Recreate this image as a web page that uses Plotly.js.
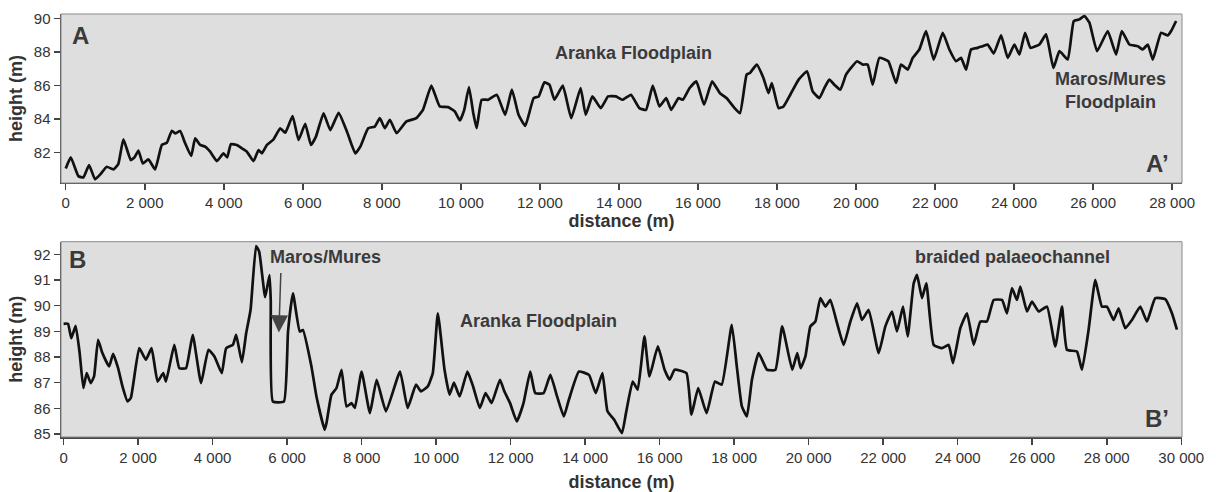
<!DOCTYPE html>
<html>
<head>
<meta charset="utf-8">
<script src="https://cdn.plot.ly/plotly-3.0.1.min.js"></script>
<style>html,body{margin:0;padding:0;background:#fff;}#chart{width:1216px;height:492px;}</style>
</head>
<body>
<div id="chart"></div>
<script>
// Profile A–A' (distance m, height m)
const distA = [0,127,320,447,590,742,880,1038,1206,1330,1459,1646,1740,1839,1950,2092,2262,2432,2558,2685,2769,2895,3022,3174,3275,3402,3529,3655,3825,3993,4085,4180,4331,4458,4584,4752,4879,4963,5091,5259,5428,5555,5741,5892,6061,6206,6332,6525,6695,6906,7118,7328,7455,7653,7822,7949,8076,8203,8373,
8616,8744,8871,9041,9253,9465,9677,9847,9975,10085,10204,10314,10399,10526,10696,10908,11121,11290,11460,11630,11842,11969,12114,12241,12368,12580,12793,13031,13158,13328,13540,13727,13922,14092,14304,14516,14686,14856,15025,15195,15323,15509,15620,15789,15959,16154,16358,16553,16723,16893,17063,17232,17317,17487,17657,17784,17869,18039,18166,18336,18548,18760,
18903,19072,19198,19325,19451,19603,19747,19873,20025,20169,20295,20422,20591,20819,21013,21139,21308,21435,21603,21772,21966,22194,22363,22532,22658,22785,22911,23080,23207,23333,23485,23671,23840,24008,24135,24278,24414,24641,24810,24996,25148,25359,25511,25654,25781,25907,26101,26371,26582,26726,26920,27131,27257,27384,27511,27722,27890,27975,28101];
const heightA = [81.04,81.70,80.58,80.50,81.24,80.39,80.70,81.14,80.98,81.30,82.78,81.54,81.70,82.10,81.34,81.58,80.98,82.44,82.57,83.29,83.13,83.27,82.54,81.78,82.84,82.44,82.34,82.04,81.48,81.94,81.70,82.49,82.44,82.24,82.04,81.48,82.14,81.94,82.44,82.78,83.43,83.17,84.17,82.74,83.70,82.44,82.94,84.33,83.33,84.36,83.23,81.94,82.34,83.44,83.54,84.04,83.44,83.94,83.14,
83.84,83.94,84.04,84.54,85.98,84.74,84.7,84.44,83.9,84.54,85.9,84.34,83.44,85.14,85.14,85.44,84.24,85.74,84.24,83.58,85.24,85.34,86.18,86.04,85.14,85.98,84.04,85.84,84.24,85.34,84.64,85.34,85.34,85.14,85.44,84.64,84.54,85.98,84.74,85.24,84.54,85.24,85.14,85.84,86.24,84.84,86.24,85.54,85.24,84.74,84.34,86.64,86.74,87.24,86.44,85.54,86.14,84.64,84.74,85.44,86.34,86.84,
85.64,85.24,85.84,86.34,86.04,85.74,86.64,87.04,87.44,87.24,87.24,86.04,87.64,87.44,86.14,87.24,86.94,87.64,88.14,89.24,87.54,89.14,88.14,87.44,87.64,86.94,88.14,88.24,88.34,88.44,87.9,88.98,87.64,88.44,87.84,89.14,88.24,88.44,89.04,87.04,88.04,87.54,89.84,89.94,90.14,89.74,88.04,89.24,87.84,89.24,88.44,88.34,88.14,88.44,87.54,89.14,88.98,89.24,89.84];

// Profile B–B'
const distB = [0,117,206,323,431,530,620,727,817,925,1041,1221,1329,1463,1580,1714,1804,2029,2208,2361,2522,2675,2747,2971,3106,3285,3465,3689,3887,4049,4246,4363,4542,4632,4785,4901,5018,5167,5250,5410,5527,5560,5617,5913,6024,6155,6338,6424,6652,6787,7008,7056,7190,7325,7460,7594,7729,7818,7998,8222,8402,8653,9030,
9234,9459,9594,9775,9910,10045,10225,10361,10478,10631,10839,10992,11172,11326,11488,11713,11830,11984,12164,12345,12525,12660,12885,13066,13246,13427,13562,13832,14103,14283,14463,14599,14779,14987,15095,15275,15410,15591,15726,15951,16132,16267,16402,16718,16853,17034,17259,17484,17665,17935,18070,18206,18341,18476,18656,18882,19107,19288,19558,19693,19784,
19911,20045,20179,20313,20447,20581,20760,20939,21118,21297,21431,21610,21878,22057,22236,22370,22531,22657,22818,22907,23041,23157,23354,23578,23757,23873,24070,24249,24428,24607,24785,24964,25188,25322,25456,25590,25680,25859,25993,26172,26396,26619,26798,26932,27200,27335,27513,27692,27871,28005,28184,28318,28497,28676,28900,29079,29302,29571,29750,29884];
const heightB = [89.29,89.29,88.73,89.21,88.15,86.79,87.37,86.98,87.24,88.67,88.15,87.63,88.12,87.56,86.85,86.27,86.4,88.34,87.89,88.34,87.04,87.37,87.04,88.47,87.56,87.56,88.86,86.98,88.28,88.02,87.37,88.34,88.47,88.86,87.79,88.93,89.83,92.32,92.1,90.33,91.19,90.2,86.26,86.26,88.99,90.48,88.99,89.05,87.63,86.46,85.16,85.42,86.53,86.79,87.5,86.07,86.2,86.01,87.43,85.81,87.11,85.88,87.43,
86.01,86.92,86.66,86.85,87.37,89.7,87.5,86.53,87.0,86.46,87.43,86.85,86.01,86.59,86.2,87.11,86.66,86.2,85.49,86.2,87.43,86.59,86.59,87.3,86.46,85.68,86.33,87.43,87.3,86.59,87.37,85.88,85.55,85.03,85.81,87.04,86.72,88.8,87.24,88.41,87.5,87.11,87.5,87.37,85.75,86.79,85.81,87.04,86.92,89.25,87.63,86.07,85.68,87.11,88.15,87.5,87.5,89.19,87.5,88.15,87.56,
88.02,89.19,89.38,90.29,89.96,90.22,89.32,88.47,89.38,90.09,89.44,89.83,88.15,89.19,89.77,88.99,89.96,88.8,90.87,91.2,90.29,90.87,88.47,88.34,88.47,87.76,89.12,89.7,88.47,89.38,89.38,90.22,90.22,89.7,90.68,90.22,90.74,89.77,90.16,89.77,89.96,88.41,89.96,88.28,88.21,87.5,89.06,91.0,89.96,89.96,89.44,89.89,89.12,89.44,89.96,89.38,90.29,90.25,89.7,89.06];

const xTitle = 'distance (m)';
const yTitle = 'height (m)';

const lineStyle = {color:'#111', width:2.7, shape:'spline', smoothing:0.4};
const traces = [
  {x:distA, y:heightA, xaxis:'x', yaxis:'y', mode:'lines', line:lineStyle, hoverinfo:'skip'},
  {x:distB, y:heightB, xaxis:'x2', yaxis:'y2', mode:'lines', line:lineStyle, hoverinfo:'skip'}
];

const FAM = 'Liberation Sans, Arial, sans-serif';
const tickFont = {family:FAM, size:15, color:'#333'};
const titleFont = {family:FAM, size:18, color:'#333', weight:'bold'};
function xax(range, anchor, standoff){
  return {anchor:anchor, domain:[0,1], range:range, tick0:0, dtick:2000, ticks:'outside', ticklen:6, tickwidth:1.5,
    tickcolor:'#444', showline:true, linecolor:'#444', linewidth:1.5, showgrid:false, zeroline:false,
    tickformat:',d', separatethousands:true, tickfont:tickFont, title:{text:xTitle, font:titleFont, standoff:standoff}};
}
function yax(range, dom, dt, anchor){
  return {anchor:anchor, domain:dom, range:range, tick0:0, dtick:dt, ticks:'outside', ticklen:6, tickwidth:1.5,
    tickcolor:'#444', showline:true, linecolor:'#444', linewidth:1.5, showgrid:false, zeroline:false,
    tickfont:tickFont, title:{text:yTitle, font:titleFont, standoff:6}};
}
const annFont = {family:FAM, size:18, color:'#3a3a3a', weight:'bold'};
const bigFont = {family:FAM, size:24, color:'#3a3a3a', weight:'bold'};
const ann = [
  {xref:'x', yref:'y', x:362, y:89.0, text:'A', showarrow:false, font:bigFont},
  {xref:'x', yref:'y', x:27642, y:81.36, text:'A’', showarrow:false, font:bigFont},
  {xref:'x', yref:'y', x:14357, y:87.91, text:'Aranka Floodplain', showarrow:false, font:annFont},
  {xref:'x', yref:'y', x:26453, y:85.72, text:'Maros/Mures<br>Floodplain', showarrow:false, font:annFont},
  {xref:'x2', yref:'y2', x:382, y:91.78, text:'B', showarrow:false, font:bigFont},
  {xref:'x2', yref:'y2', x:29352, y:85.62, text:'B’', showarrow:false, font:bigFont},
  {xref:'x2', yref:'y2', x:5482, y:91.88, xanchor:'left', text:'Maros/Mures', showarrow:false, font:annFont},
  {xref:'x2', yref:'y2', x:12740, y:89.4, text:'Aranka Floodplain', showarrow:false, font:annFont},
  {xref:'x2', yref:'y2', x:25463, y:91.88, text:'braided palaeochannel', showarrow:false, font:annFont},
  {xref:'x2', yref:'y2', x:5778, y:88.95, ax:2, ay:-61, text:'', showarrow:true, arrowhead:2, arrowsize:2.3, arrowwidth:1.5, arrowcolor:'#444'}
];
const shapes = [
  {type:'rect', xref:'x domain', yref:'y domain', x0:0, x1:1, y0:0, y1:1, line:{color:'#8a8a8a', width:1}},
  {type:'rect', xref:'x2 domain', yref:'y2 domain', x0:0, x1:1, y0:0, y1:1, line:{color:'#8a8a8a', width:1}}
];
const layout = {
  width:1216, height:492, showlegend:false,
  margin:{l:61, r:34, t:14, b:55},
  paper_bgcolor:'#ffffff', plot_bgcolor:'#dedede',
  separators:'. ',
  font:{family:FAM, color:'#333'},
  xaxis: xax([-120, 28250], 'y', 4),
  yaxis: yax([80.17, 90.26], [0.6005, 1], 2, 'x'),
  xaxis2: xax([-70, 30020], 'y2', 12),
  yaxis2: yax([84.88, 92.49], [0, 0.4617], 1, 'x2'),
  annotations: ann, shapes: shapes
};
Plotly.newPlot('chart', traces, layout, {staticPlot:true, displayModeBar:false});
</script>
</body>
</html>
